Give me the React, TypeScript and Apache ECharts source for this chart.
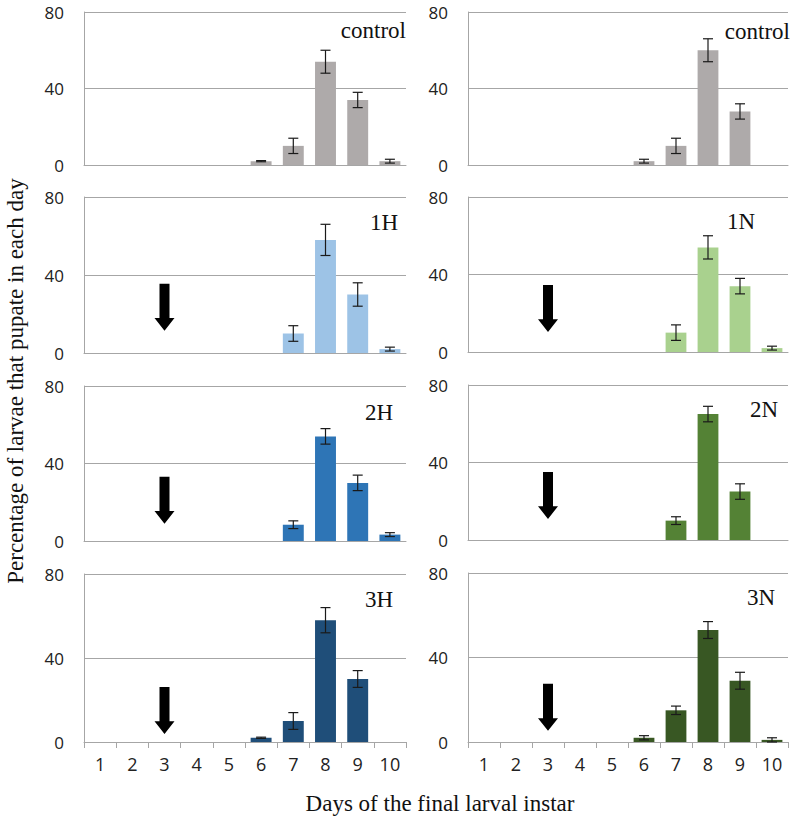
import React, { useEffect, useRef } from "react";
import * as echarts from "echarts";

const days = ["1", "2", "3", "4", "5", "6", "7", "8", "9", "10"];
const yTicks = [0, 40, 80];

const panelNames = ["control", "control", "1H", "1N", "2H", "2N", "3H", "3N"];
const panelColors = ["#AEAAAA", "#AEAAAA", "#9DC3E6", "#A9D18E", "#2E75B6", "#548235", "#1F4E79", "#385723"];

const controlLeft = [0, 0, 0, 0, 0, 2, 10, 54, 34, 2];
const controlLeftErr = [0, 0, 0, 0, 0, 0.3, 4, 6, 4, 1];
const controlRight = [0, 0, 0, 0, 0, 2, 10, 60, 28, 0];
const controlRightErr = [0, 0, 0, 0, 0, 1, 4, 6, 4, 0];
const h1 = [0, 0, 0, 0, 0, 0, 10, 58, 30, 2];
const h1Err = [0, 0, 0, 0, 0, 0, 4, 8, 6, 1];
const n1 = [0, 0, 0, 0, 0, 0, 10, 54, 34, 2];
const n1Err = [0, 0, 0, 0, 0, 0, 4, 6, 4, 1];
const h2 = [0, 0, 0, 0, 0, 0, 8.4, 54, 30, 3.3];
const h2Err = [0, 0, 0, 0, 0, 0, 2, 4, 4, 1];
const n2 = [0, 0, 0, 0, 0, 0, 10, 65, 25, 0];
const n2Err = [0, 0, 0, 0, 0, 0, 2, 4, 4, 0];
const h3 = [0, 0, 0, 0, 0, 2, 10, 58, 30, 0];
const h3Err = [0, 0, 0, 0, 0, 0.3, 4, 6, 4, 0];
const n3 = [0, 0, 0, 0, 0, 2, 15, 53, 29, 1];
const n3Err = [0, 0, 0, 0, 0, 1, 2, 4, 4, 1];

const panelValues = [controlLeft, controlRight, h1, n1, h2, n2, h3, n3];
const panelErrors = [controlLeftErr, controlRightErr, h1Err, n1Err, h2Err, n2Err, h3Err, n3Err];

// treatment arrow marks at day 3 (centre value of the arrow), null = no arrow
const arrowDay = "3";
const arrowCenters = [null, null, 23.5, 22.4, 21, 23, 15, 16.4];

const yTitle = "Percentage of larvae that pupate in each day";
const xTitle = "Days of the final larval instar";

// layout (pixels)
const grids = [
  { left: 84, top: 12, width: 322, height: 153 },
  { left: 468, top: 12, width: 320, height: 153 },
  { left: 84, top: 197, width: 322, height: 156 },
  { left: 468, top: 197, width: 320, height: 155 },
  { left: 84, top: 386, width: 322, height: 155 },
  { left: 468, top: 385, width: 320, height: 155 },
  { left: 84, top: 574, width: 322, height: 168 },
  { left: 468, top: 573, width: 320, height: 169 },
];
const labelPos = [
  { x: 406, y: 30 },
  { x: 790, y: 31 },
  { x: 398, y: 222 },
  { x: 755, y: 221 },
  { x: 393, y: 412 },
  { x: 778, y: 409 },
  { x: 393, y: 599 },
  { x: 775, y: 597 },
];

const GRID_COLOR = "#A6A6A6";
const SERIF = "'Liberation Serif', 'Times New Roman', serif";
const SANS = "'Open Sans', 'Liberation Sans', sans-serif";
const ARROW = "path://M5,0 L15,0 L15,35 L20,35 L10,48 L0,35 L5,35 Z";

export default function App() {
  const ref = useRef<HTMLDivElement>(null);
  useEffect(() => {
    if (!ref.current) return;
    const chart = echarts.init(ref.current, undefined, { renderer: "svg" });
    const xAxis: any[] = [];
    const yAxis: any[] = [];
    const series: any[] = [];
    grids.forEach((g, i) => {
      const bottomRow = i >= 6;
      xAxis.push({
        type: "category",
        gridIndex: i,
        data: days,
        boundaryGap: true,
        axisLine: { show: true, lineStyle: { color: GRID_COLOR, width: 1 } },
        axisTick: { show: bottomRow, length: 6, lineStyle: { color: GRID_COLOR } },
        axisLabel: { show: bottomRow, fontFamily: SANS, fontSize: 18, color: "#222", margin: 13 },
        splitLine: { show: false },
      });
      yAxis.push({
        type: "value",
        gridIndex: i,
        min: yTicks[0],
        max: yTicks[yTicks.length - 1],
        interval: 40,
        axisLine: { show: true, lineStyle: { color: GRID_COLOR, width: 1 } },
        axisTick: { show: false },
        axisLabel: { fontFamily: SANS, fontSize: 17, lineHeight: 16, color: "#222", margin: 20 },
        splitLine: { show: true, lineStyle: { color: GRID_COLOR, width: 1 } },
      });
      series.push({
        type: "bar",
        xAxisIndex: i,
        yAxisIndex: i,
        data: panelValues[i],
        barWidth: "65%",
        itemStyle: { color: panelColors[i] },
        z: 2,
      });
      const errData = panelValues[i]
        .map((v, k) => [k, v, panelErrors[i][k]])
        .filter((d) => d[2] > 0);
      series.push({
        type: "custom",
        xAxisIndex: i,
        yAxisIndex: i,
        data: errData,
        encode: { x: 0, y: 1 },
        z: 5,
        renderItem: (params: any, api: any) => {
          const x = api.value(0);
          const v = api.value(1);
          const e = api.value(2);
          const hi = api.coord([x, v + e]);
          const lo = api.coord([x, Math.max(0, v - e)]);
          const cap = 5;
          const style = { stroke: "#1a1a1a", lineWidth: 1.2 };
          return {
            type: "group",
            children: [
              { type: "line", shape: { x1: hi[0], y1: hi[1], x2: lo[0], y2: lo[1] }, style },
              { type: "line", shape: { x1: hi[0] - cap, y1: hi[1], x2: hi[0] + cap, y2: hi[1] }, style },
              { type: "line", shape: { x1: lo[0] - cap, y1: lo[1], x2: lo[0] + cap, y2: lo[1] }, style },
            ],
          };
        },
      });
      if (arrowCenters[i] !== null) {
        series.push({
          type: "scatter",
          xAxisIndex: i,
          yAxisIndex: i,
          data: [[arrowDay, arrowCenters[i]]],
          symbol: ARROW,
          symbolSize: [20, 47],
          itemStyle: { color: "#000", opacity: 1 },
          emphasis: { disabled: true },
          z: 6,
        });
      }
    });
    const graphic: any[] = panelNames.map((name, i) => ({
      type: "text",
      x: labelPos[i].x,
      y: labelPos[i].y,
      style: {
        text: name,
        font: `23px ${SERIF}`,
        fill: "#111",
        textAlign: "right",
        textVerticalAlign: "middle",
      },
    }));
    graphic.push({
      type: "text",
      x: 15,
      y: 381,
      rotation: Math.PI / 2,
      style: {
        text: yTitle,
        font: `23px ${SERIF}`,
        fill: "#111",
        textAlign: "center",
        textVerticalAlign: "middle",
      },
    });
    graphic.push({
      type: "text",
      x: 440,
      y: 803,
      style: {
        text: xTitle,
        font: `23px ${SERIF}`,
        fill: "#111",
        textAlign: "center",
        textVerticalAlign: "middle",
      },
    });
    chart.setOption({
      animation: false,
      backgroundColor: "#fff",
      grid: grids.map((g) => ({ ...g, containLabel: false })),
      xAxis,
      yAxis,
      series,
      graphic,
    });
    return () => chart.dispose();
  }, []);
  return (
    <div
      ref={ref}
      style={{ position: "fixed", left: 0, top: 0, width: 794, height: 819 }}
    />
  );
}
